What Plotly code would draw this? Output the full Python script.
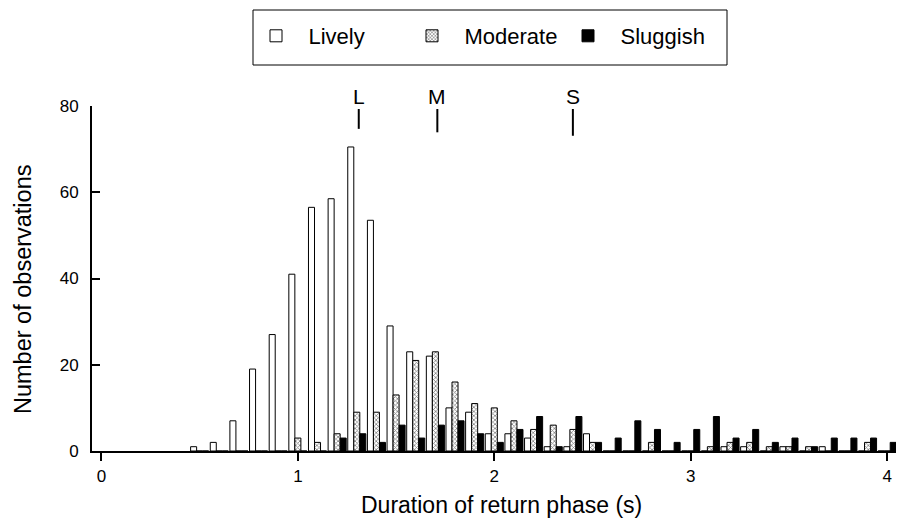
import plotly.graph_objects as go

# ---- data ----
bins = [round(0.5 + 0.1 * i, 1) for i in range(36)]  # 0.5 ... 4.0 s

lively = [1, 2, 7, 19, 27, 41, 56.5, 58.5, 70.5, 53.5,
          29, 23, 22, 10, 9, 4, 4, 3, 1, 1,
          4, 0, 0, 0, 0, 0, 0, 1, 1, 0,
          1, 0, 1, 0, 0, 0]
moderate = [0, 0, 0, 0, 0, 3, 2, 4, 9, 9,
            13, 21, 23, 16, 11, 10, 7, 5, 6, 5,
            2, 0, 0, 2, 0, 0, 1, 2, 2, 1,
            1, 1, 0, 0, 2, 0]
sluggish = [0, 0, 0, 0, 0, 0, 0, 3, 4, 2,
            6, 3, 6, 7, 4, 2, 5, 8, 1, 8,
            2, 3, 7, 5, 2, 5, 8, 3, 5, 2,
            3, 1, 3, 3, 3, 2]

mean_labels = ["L", "M", "S"]
mean_values = [1.31, 1.71, 2.40]

x_ticks = [0, 1, 2, 3, 4]
y_ticks = [0, 20, 40, 60, 80]

x_title = "Duration of return phase (s)"
y_title = "Number of observations"

FONT = "Liberation Sans, Arial, Helvetica, sans-serif"

# page has an 8px body margin; plot area spans page x 92..897, y 106..451
def px(x):
    return (x - 92) / 805


def py(y):
    return (451 - y) / 345


fig = go.Figure()
fig.add_trace(go.Bar(
    x=bins, y=lively, name="Lively",
    marker=dict(color="white", line=dict(color="black", width=1)),
))
fig.add_trace(go.Bar(
    x=bins, y=moderate, name="Moderate",
    marker=dict(color="white", line=dict(color="black", width=1),
                pattern=dict(shape="x", fgcolor="black", bgcolor="white",
                             size=3, solidity=0.45)),
))
fig.add_trace(go.Bar(
    x=bins, y=sluggish, name="Sluggish",
    marker=dict(color="black", line=dict(color="black", width=1)),
))

# mean markers
line_bottoms = [74.7, 73.9, 73.1]
for lab, v, yb in zip(mean_labels, mean_values, line_bottoms):
    fig.add_shape(type="line", xref="x", yref="y", x0=v, x1=v, y0=yb, y1=79.3,
                  line=dict(color="black", width=2))
    fig.add_annotation(x=v, y=py(96), xref="x", yref="paper", text=lab,
                       showarrow=False, yanchor="middle", xanchor="center",
                       font=dict(family=FONT, size=21, color="black"))

# axis titles
fig.add_annotation(x=px(501.5), y=py(505), xref="paper", yref="paper",
                   text=x_title, showarrow=False, xanchor="center",
                   yanchor="middle",
                   font=dict(family=FONT, size=23, color="black"))
fig.add_annotation(x=px(23), y=py(290), xref="paper", yref="paper",
                   text=y_title, showarrow=False, textangle=-90,
                   xanchor="center", yanchor="middle",
                   font=dict(family=FONT, size=23.5, color="black"))

# legend frame
fig.add_shape(type="rect", xref="paper", yref="paper",
              x0=px(253), x1=px(727), y0=py(65), y1=py(10),
              line=dict(color="black", width=1), fillcolor="rgba(0,0,0,0)")

fig.update_layout(
    width=896, height=515,
    margin=dict(l=84, r=7, t=98, b=72, autoexpand=False),
    paper_bgcolor="white", plot_bgcolor="white",
    barmode="group", bargap=0.08, bargroupgap=0,
    font=dict(family=FONT, size=17, color="black"),
    legend=dict(orientation="h", xref="container", yref="container",
                x=235.5 / 896, xanchor="left", y=1 - 7 / 515, yanchor="top",
                font=dict(family=FONT, size=22, color="black"),
                itemwidth=55,
                entrywidth=86, entrywidthmode="pixels",
                bgcolor="rgba(0,0,0,0)", borderwidth=0),
    xaxis=dict(range=[-0.048, 4.05], tickvals=x_ticks, ticks="outside",
               ticklen=8, tickwidth=1.5, tickcolor="black",
               showline=True, linecolor="black", linewidth=2,
               showgrid=False, zeroline=False, automargin=False,
               ticklabelstandoff=1),
    yaxis=dict(range=[0, 80], tickvals=y_ticks, ticks="inside",
               ticklen=8, tickwidth=1.5, tickcolor="black",
               showline=True, linecolor="black", linewidth=2,
               showgrid=False, zeroline=False, ticklabelstandoff=8,
               automargin=False),
)

fig.write_html("out.html")
